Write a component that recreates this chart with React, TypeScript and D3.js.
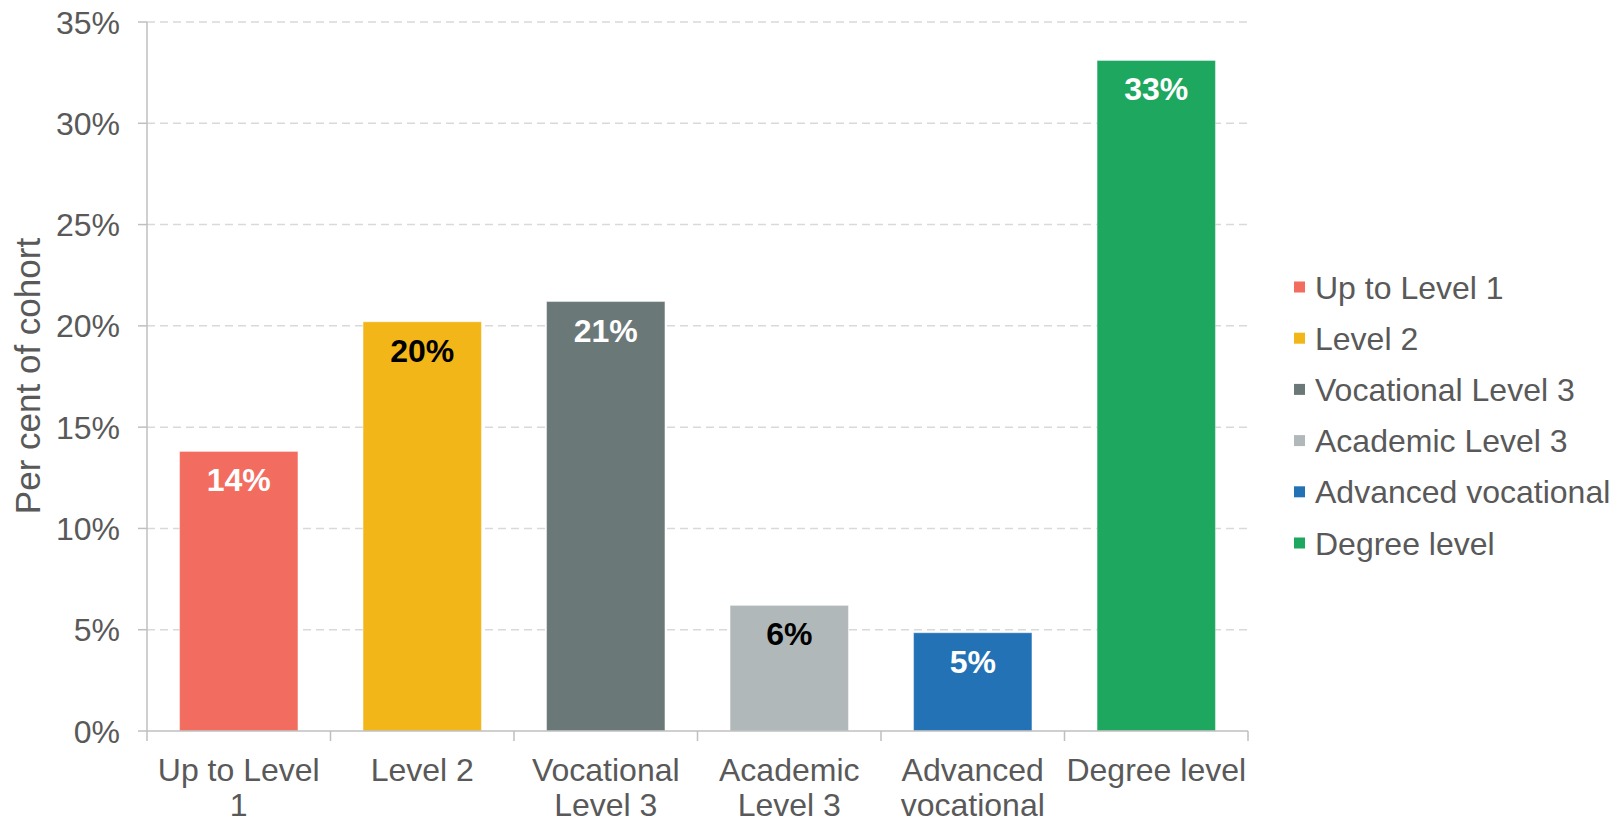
import * as d3 from 'd3';
import React from 'react';

// categories and values
const categories = ['Up to Level 1', 'Level 2', 'Vocational Level 3', 'Academic Level 3', 'Advanced vocational', 'Degree level'];
const axisLabels = [['Up to Level', '1'], ['Level 2'], ['Vocational', 'Level 3'], ['Academic', 'Level 3'], ['Advanced', 'vocational'], ['Degree level']];
const values = [13.8, 20.2, 21.2, 6.2, 4.85, 33.1];
const colors = ['#F26C60', '#F2B619', '#6B7878', '#B1B8B9', '#2372B5', '#1DA75F'];
const labelColors = ['#ffffff', '#000000', '#ffffff', '#000000', '#ffffff', '#ffffff'];
const yTicks = [0, 5, 10, 15, 20, 25, 30, 35];

const W = 1624;
const H = 819;
const left = 147;
const right = 1248;
const top = 22;
const bottom = 731;
const font = '"Liberation Sans", Arial, sans-serif';
const textColor = '#595959';
const axisColor = '#bfbfbf';

export default function App() {
  const x = d3.scaleBand<string>().domain(categories).range([left, right]).paddingInner(0.355).paddingOuter(0.1775);
  const y = d3.scaleLinear().domain([0, 35]).range([bottom, top]);
  const bandStep = x.step();

  return (
    <svg width={W} height={H} style={{ position: 'absolute', left: 0, top: 0, fontFamily: font }}>
      <rect width={W} height={H} fill="#fff" />

      {/* gridlines */}
      {yTicks.filter(t => t > 0).map(t => (
        <line key={t} x1={left} x2={right} y1={y(t)} y2={y(t)} stroke="#d9d9d9" strokeWidth={1.5} strokeDasharray="8,5" />
      ))}

      {/* bars */}
      {values.map((v, i) => (
        <rect key={i} x={x(categories[i])} y={y(v)} width={x.bandwidth()} height={y(0) - y(v)} fill={colors[i]} stroke="#fff" strokeWidth={1} strokeOpacity={0.4} />
      ))}

      {/* value labels */}
      {values.map((v, i) => (
        <text key={i} x={(x(categories[i]) as number) + x.bandwidth() / 2} y={y(v) + 40} textAnchor="middle" fontSize={32} fontWeight="bold" fill={labelColors[i]}>
          {Math.round(v) + '%'}
        </text>
      ))}

      {/* y axis */}
      <line x1={left} x2={left} y1={top} y2={bottom} stroke={axisColor} strokeWidth={1.5} />
      {yTicks.map(t => (
        <g key={t}>
          <line x1={left - 9} x2={left} y1={y(t)} y2={y(t)} stroke={axisColor} strokeWidth={1.5} />
          <text x={left - 27} y={y(t)} dy="0.36em" textAnchor="end" fontSize={32} fill={textColor}>{t + '%'}</text>
        </g>
      ))}

      {/* x axis */}
      <line x1={left} x2={right} y1={bottom} y2={bottom} stroke={axisColor} strokeWidth={1.5} />
      {d3.range(categories.length + 1).map(i => (
        <line key={i} x1={left + i * bandStep} x2={left + i * bandStep} y1={bottom} y2={bottom + 10} stroke={axisColor} strokeWidth={1.5} />
      ))}
      {axisLabels.map((lines, i) => (
        <text key={i} textAnchor="middle" fontSize={32} fill={textColor}>
          {lines.map((l, j) => (
            <tspan key={j} x={(x(categories[i]) as number) + x.bandwidth() / 2} y={781 + j * 35}>{l}</tspan>
          ))}
        </text>
      ))}

      {/* y title */}
      <text transform={`translate(40,376) rotate(-90)`} textAnchor="middle" fontSize={35} fill={textColor}>Per cent of cohort</text>

      {/* legend */}
      {categories.map((c, i) => (
        <g key={c} transform={`translate(1294,${287 + i * 51.2})`}>
          <rect x={0} y={-5.5} width={11} height={11} fill={colors[i]} />
          <text x={21} y={0} dy="0.36em" fontSize={32} fill={textColor}>{c}</text>
        </g>
      ))}
    </svg>
  );
}
